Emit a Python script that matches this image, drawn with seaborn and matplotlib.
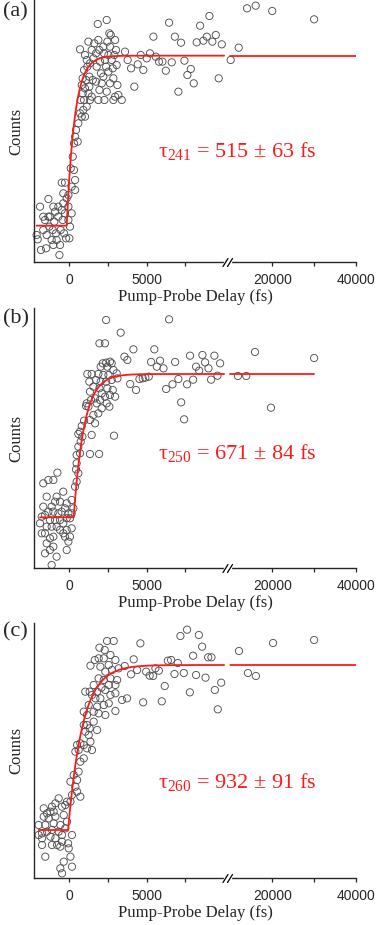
import numpy as np
import matplotlib
matplotlib.use("Agg")
import matplotlib.pyplot as plt
import seaborn as sns

# ---- data (delay in fs, counts in arbitrary units) ----
a_delay = [-2090, -2020, -1870, -1810, -1660, -1550, -1480, -1440, -1330, -1270,
           -1230, -1120, -1050, -1010, -950, -900, -840, -800, -690, -620,
           -580, -540, -470, -410, -370, -320, -260, -190, -150, -40,
           20, 60, -470, -260, 110, 320, 390, 170, -40, -370,
           -690, -1010, -1330, -1660, -40, 170, 390, 240, 320, 390,
           560, 450, 600, 710, 820, 920, 970, 750, 880, 820,
           1030, 1100, 880, 970, 1180, 1310, 1460, 1250, 1350, 1140,
           1030, 710, 1030, 1250, 1350, 1460, 1570, 1630, 1740, 1780,
           1850, 1890, 1960, 2000, 2060, 2110, 2210, 2260, 2320, 2390,
           2430, 2470, 2540, 2600, 2640, 2690, 2750, 2820, 2860, 2920,
           2970, 3030, 3070, 3120, 3180, 2970, 2860, 3400, 2280, 1960,
           1740, 1530, 1310, 1140, 2210, 2540, 2640, 2430, 1890, 3610,
           3780, 4000, 4210, 4430, 4620, 4790, 5010, 5220, 5440, 5590,
           5800, 6020, 6240, 6450, 6620, 6820, 7050, 7220, 7440, 7630,
           7850, 8040, 8230, 8450, 8660, 8880, 9050, 9240, 9460, 9650,
           9850, 10080, 11990, 13980, 16050, 20000, 30000]
a_counts = [81, 68, 166, 36, 96, 126, 41, 81, 189, 106,
            136, 66, 96, 51, 121, 151, 86, 66, 136, 21,
            51, 96, 156, 126, 206, 86, 146, 71, 191, 166,
            71, 106, 238, 238, 281, 276, 246, 226, 201, 176,
            166, 166, 136, 136, 126, 146, 216, 316, 356, 376,
            361, 396, 416, 446, 436, 456, 486, 486, 506, 531,
            521, 546, 551, 576, 586, 526, 496, 506, 486, 466,
            436, 638, 621, 661, 596, 636, 611, 656, 626, 586,
            714, 666, 636, 601, 566, 536, 646, 626, 606, 586,
            726, 661, 621, 686, 646, 681, 606, 581, 551, 621,
            666, 636, 591, 531, 501, 496, 486, 486, 486, 516,
            541, 546, 556, 606, 556, 571, 536, 511, 486, 631,
            606, 581, 526, 593, 621, 576, 611, 626, 676, 616,
            601, 601, 574, 718, 599, 676, 511, 658, 604, 561,
            579, 536, 659, 709, 664, 676, 738, 661, 681, 551,
            653, 606, 643, 761, 769, 753, 728]

b_delay = [2390, 3330, 1960, 2320, 3570, 3760, 2170, 2390, 2640, 2750,
           2040, 2470, 2860, 3070, 1180, 1460, 1890, 2210, 2540, 1740,
           2040, 2390, 2750, 1310, 3120, 1570, 1960, 2470, 2820, 1350,
           2110, 2320, 2640, 2970, 1680, 2000, 1140, 1420, 1780, 2430,
           2600, 1100, 1250, 2110, 1890, 1570, 1680, 1350, 970, 820,
           710, 600, 860, 1460, 750, 600, 490, 710, 1350, 1940,
           490, 450, 600, 2900, -750, -1010, -1330, -1660, 490, 390,
           -1440, -800, -370, -580, -900, -1120, -1660, -150, 170, -260,
           -470, -690, -1010, -1330, -1550, -1760, -1230, -900, -580, -150,
           60, 170, 280, -40, -370, -800, -1120, -1440, -1870, -1760,
           -1550, -1230, -1010, -580, -370, -150, 170, -260, 60, -40,
           -1010, -1440, -1230, -1550, -150, -800, -1120, 6450, 4150, 5500,
           5290, 5870, 5660, 6090, 6840, 7800, 8600, 9370, 8770, 9740,
           8190, 8390, 8990, 3940, 4320, 4540, 4750, 4920, 5140, 6260,
           6670, 7050, 7610, 8000, 9160, 9570, 7230, 7420, 15880, 30000,
           19700, 11820, 13800]
b_counts = [744, 706, 674, 674, 634, 624, 614, 616, 619, 614,
            604, 604, 594, 584, 582, 582, 582, 579, 579, 564,
            559, 559, 564, 559, 569, 544, 539, 539, 534, 529,
            524, 514, 519, 514, 509, 504, 494, 504, 494, 494,
            484, 486, 484, 479, 464, 459, 434, 444, 442, 426,
            409, 402, 394, 399, 379, 364, 339, 344, 342, 342,
            314, 296, 284, 397, 286, 264, 264, 254, 259, 244,
            214, 214, 229, 199, 199, 184, 184, 194, 204, 179,
            169, 164, 169, 169, 159, 154, 144, 144, 144, 149,
            149, 164, 179, 164, 134, 124, 124, 124, 134, 104,
            104, 89, 94, 114, 104, 114, 119, 94, 94, 79,
            64, 74, 54, 44, 54, 34, 9, 746, 656, 656,
            618, 622, 604, 599, 618, 637, 639, 637, 617, 614,
            604, 592, 599, 552, 534, 567, 569, 571, 574, 537,
            551, 567, 551, 565, 565, 577, 497, 446, 648, 630,
            481, 576, 576]

c_delay = [2450, 2880, 1960, 2300, 2670, 1910, 2240, 2990, 1660, 1380,
           2020, 2560, 3200, 2770, 2340, 1910, 2240, 2670, 3100, 2560,
           2990, 1590, 2090, 1810, 2340, 1050, 1330, 1480, 1700, 2020,
           2670, 2990, 3420, 3740, 2560, 2240, 1810, 1270, 1590, 950,
           1160, 1910, 2990, 2340, 950, 1160, 1330, 1590, 1050, 1810,
           1270, 1380, 950, 520, 730, 410, 620, 1160, 1480, 950,
           730, 620, 300, 520, 90, 410, 520, 730, 190, 90,
           -130, -240, -1630, -1100, -670, -880, -1420, -1200, -990, -450,
           -1630, -1310, -880, -340, -1960, -1530, -990, -560, -130, -1740,
           -1420, -1100, -670, -240, 190, -450, -1960, -1740, -1200, -880,
           -450, -60, -1740, -1100, -770, -560, -20, -1530, 90, -340,
           190, -560, -450, 7610, 7180, 8370, 8580, 4600, 4170, 3590,
           8000, 8970, 9180, 6370, 6580, 7010, 4390, 4000, 4970, 5200,
           5420, 5570, 5790, 6800, 7400, 8190, 8800, 9810, 9400, 7790,
           6170, 4780, 5980, 9590, 12060, 20200, 30000, 14200, 16100]
c_counts = [711, 711, 691, 684, 669, 659, 659, 654, 654, 637,
            634, 639, 629, 624, 619, 599, 594, 599, 594, 579,
            579, 579, 571, 559, 564, 559, 559, 549, 539, 539,
            549, 554, 534, 539, 524, 519, 514, 519, 499, 499,
            489, 494, 501, 489, 459, 459, 449, 469, 439, 444,
            429, 409, 399, 399, 404, 379, 384, 389, 384, 359,
            349, 319, 309, 294, 289, 274, 259, 244, 249, 229,
            229, 219, 209, 214, 239, 224, 194, 199, 199, 214,
            184, 179, 184, 189, 159, 159, 164, 159, 169, 134,
            139, 144, 139, 149, 129, 129, 129, 119, 124, 119,
            109, 104, 99, 99, 99, 94, 89, 64, 64, 49,
            34, 29, 14, 745, 726, 729, 694, 704, 656, 636,
            667, 662, 662, 652, 654, 645, 624, 611, 619, 607,
            606, 629, 622, 612, 615, 609, 601, 586, 564, 557,
            576, 527, 530, 506, 681, 705, 714, 615, 606]

# rise fits: baseline + amplitude * (1 - exp(-(t - t0) / tau))
fit_tau = [515, 671, 932]
fit_t0 = [-150, 300, -60]
fit_base = [109, 152, 144]
fit_amp = [510, 430, 495]
fit_start = [-2090, -1870, -1960]
fit_end = [40000, 30000, 40000]

panel_tags = ["(a)", "(b)", "(c)"]
tau_text = [r"τ$_{\mathrm{241}}$ = 515 ± 63 fs",
            r"τ$_{\mathrm{250}}$ = 671 ± 84 fs",
            r"τ$_{\mathrm{260}}$ = 932 ± 91 fs"]
major_ticks = [0, 5000, 20000, 40000]
minor_ticks = [2500, 7500, 30000]

# broken x axis: linear up to 10 ps, compressed after the break
BREAK, GAP, SQUEEZE = 10000, 400, 0.27


def fwd(x):
    x = np.asarray(x, dtype=float)
    return np.where(x <= BREAK, x, BREAK + GAP + (x - BREAK) * SQUEEZE)


def inv(u):
    u = np.asarray(u, dtype=float)
    return np.where(u <= BREAK, u,
                    np.where(u < BREAK + GAP, BREAK, BREAK + (u - BREAK - GAP) / SQUEEZE))


def rise(t, i):
    t = np.asarray(t, dtype=float)
    return fit_base[i] + fit_amp[i] * np.where(t > fit_t0[i], 1 - np.exp(-(t - fit_t0[i]) / fit_tau[i]), 0)


sns.set_style("ticks")
plt.rcParams["font.family"] = ["Liberation Serif", "DejaVu Serif"]
plt.rcParams["mathtext.fontset"] = "custom"
plt.rcParams["mathtext.rm"] = "Liberation Serif"
plt.rcParams["mathtext.it"] = "Liberation Serif:italic"

fig = plt.figure(figsize=(3.79, 9.25), dpi=100)
W = 379
H = 925
boxes = [(0, 262), (308, 568), (623, 878)]  # top / bottom of each axes, px
ylims = [786, 780, 765]
text_y = [0.40, 0.419, 0.354]
tag_top = [2, 309, 622]

datasets = [(a_delay, a_counts), (b_delay, b_counts), (c_delay, c_counts)]

for i, (dx, dy) in enumerate(datasets):
    top, bot = boxes[i]
    ax = fig.add_axes([34 / W, 1 - bot / H, 322 / W, (bot - top) / H])

    sns.scatterplot(x=dx, y=dy, ax=ax, s=27, edgecolor="#505050", linewidth=0.65,
                    zorder=2, clip_on=False)
    ax.collections[-1].set_facecolor("none")

    # fit curve, drawn in two pieces so it breaks with the axis
    t_left = np.sort(np.append(np.linspace(fit_start[i], BREAK, 800), fit_t0[i]))
    t_right = np.linspace(BREAK + 1, fit_end[i], 50)
    for tt in (t_left, t_right):
        sns.lineplot(x=tt, y=rise(tt, i), ax=ax, color="#ff1a1a", lw=1.3,
                     zorder=3, sort=False, estimator=None)

    ax.set_xscale("function", functions=(fwd, inv))
    ax.set_xlim(-2258, 40000)
    ax.set_ylim(0, ylims[i])
    ax.set_xticks(major_ticks)
    ax.set_xticklabels([str(v) for v in major_ticks])
    ax.set_xticks(minor_ticks, minor=True)
    ax.set_yticks([])
    ax.tick_params(axis="x", which="both", direction="out", length=2.6, width=0.9,
                   pad=5, labelsize=10, labelfontfamily="Liberation Sans")
    for side in ["top", "right"]:
        ax.spines[side].set_visible(False)
    for side in ["left", "bottom"]:
        ax.spines[side].set_linewidth(1.0)

    ax.set_xlabel("Pump-Probe Delay (fs)", fontsize=12, labelpad=1.5)
    ax.set_ylabel("Counts", fontsize=12, labelpad=7)

    ax.text(0.385, text_y[i], tau_text[i], transform=ax.transAxes, color="#ff1a1a",
            fontsize=16, va="baseline", ha="left")

    # "//" break mark on the bottom spine
    h = bot - top
    x1, x2 = (225 - 34) / 322, (230 - 34) / 322
    ax.plot([x1, x2], [0, 0], color="white", lw=2.5, transform=ax.transAxes,
            clip_on=False, zorder=5)
    for xs in (223, 227.5):
        ax.plot([(xs - 34) / 322, (xs + 5 - 34) / 322], [-4.5 / h, 3.5 / h],
                color="black", lw=0.9, transform=ax.transAxes, clip_on=False, zorder=6)

    fig.text(3 / W, 1 - tag_top[i] / H, panel_tags[i], fontsize=16, va="top", ha="left")

fig.savefig("out.png", dpi=100)
